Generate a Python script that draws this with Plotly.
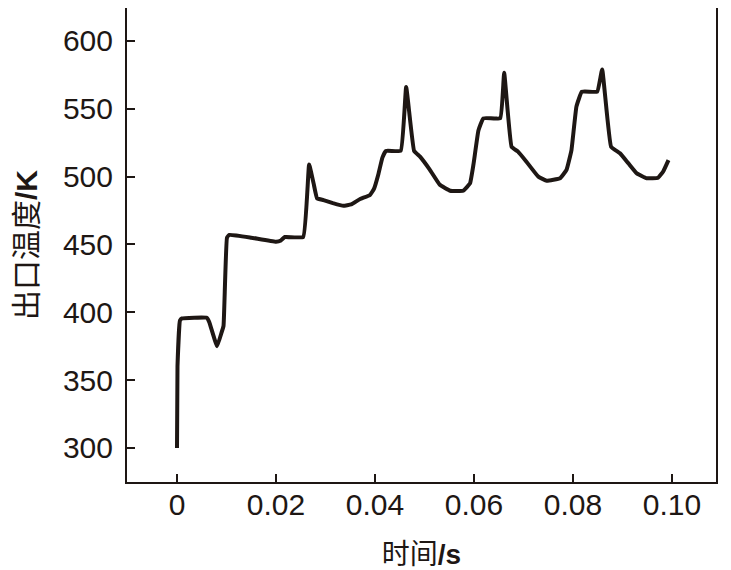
import plotly.graph_objects as go

time_s = [0.0000, 0.0001, 0.0006, 0.0010, 0.0060, 0.0065, 0.0081, 0.0090, 0.0094,
          0.0101, 0.0106, 0.0150, 0.0200, 0.0210, 0.0218, 0.0255, 0.0267, 0.0276,
          0.0283, 0.0296, 0.0315, 0.0336, 0.0352, 0.0370, 0.0390, 0.0398, 0.0407,
          0.0415, 0.0422, 0.0452, 0.0463, 0.0479, 0.0491, 0.0511, 0.0531, 0.0552,
          0.0578, 0.0592, 0.0599, 0.0609, 0.0619, 0.0653, 0.0661, 0.0676, 0.0689,
          0.0706, 0.0730, 0.0747, 0.0774, 0.0787, 0.0797, 0.0807, 0.0818, 0.0849,
          0.0859, 0.0877, 0.0895, 0.0912, 0.0929, 0.0949, 0.0972, 0.0982, 0.0993]
temp_K = [300.0, 360.0, 394.0, 395.5, 396.0, 393.0, 375.0, 385.0, 390.0,
          455.0, 457.0, 455.0, 452.0, 453.0, 455.5, 455.5, 509.0, 495.0,
          484.0, 482.7, 480.5, 478.5, 479.5, 483.5, 486.5, 491.0, 502.0,
          514.0, 519.0, 519.0, 566.0, 519.0, 514.7, 505.0, 494.0, 489.6,
          489.6, 495.0, 509.0, 534.0, 543.0, 543.0, 576.5, 522.0, 518.4,
          511.0, 500.0, 497.0, 498.8, 505.0, 519.6, 551.6, 562.6, 562.6,
          579.0, 522.0, 517.2, 509.8, 502.4, 498.8, 499.2, 503.6, 512.2]

x_tickvals = [0, 0.02, 0.04, 0.06, 0.08, 0.10]
x_ticktext = ["0", "0.02", "0.04", "0.06", "0.08", "0.10"]
y_tickvals = [300, 350, 400, 450, 500, 550, 600]

ink = "#1e1714"

fig = go.Figure()
fig.add_trace(go.Scatter(x=time_s, y=temp_K, mode="lines",
                         line=dict(color=ink, width=4, shape="spline", smoothing=0.3),
                         showlegend=False))

tick_font = dict(family="Liberation Sans, Arial, sans-serif", size=30, color=ink)
xtitle_font = dict(family="Liberation Sans, Noto Sans CJK SC, sans-serif", size=28, color=ink)
ytitle_font = dict(family="Liberation Sans, Noto Sans CJK SC, sans-serif", size=30, color=ink)

fig.update_layout(
    width=723, height=562,
    margin=dict(l=119, r=15, t=0, b=88),
    paper_bgcolor="white", plot_bgcolor="white",
    xaxis=dict(range=[-0.0101, 0.1089], tickvals=x_tickvals, ticktext=x_ticktext,
               ticks="inside", ticklen=8, tickwidth=2, tickcolor=ink,
               showline=True, linecolor=ink, linewidth=2, mirror=True,
               showgrid=False, zeroline=False, tickfont=tick_font,
               automargin=False, ticklabelstandoff=-5,
               title=dict(text="时间<b>/s</b>", font=xtitle_font, standoff=26)),
    yaxis=dict(range=[274.9, 624.3], tickvals=y_tickvals,
               ticks="inside", ticklen=8, tickwidth=2, tickcolor=ink,
               showline=True, linecolor=ink, linewidth=2, mirror=True,
               showgrid=False, zeroline=False, tickfont=tick_font,
               automargin=False, ticklabelstandoff=6,
               title=dict(text="出口温度<b>/K</b>", font=ytitle_font, standoff=16)),
)

fig.write_html("out.html")
